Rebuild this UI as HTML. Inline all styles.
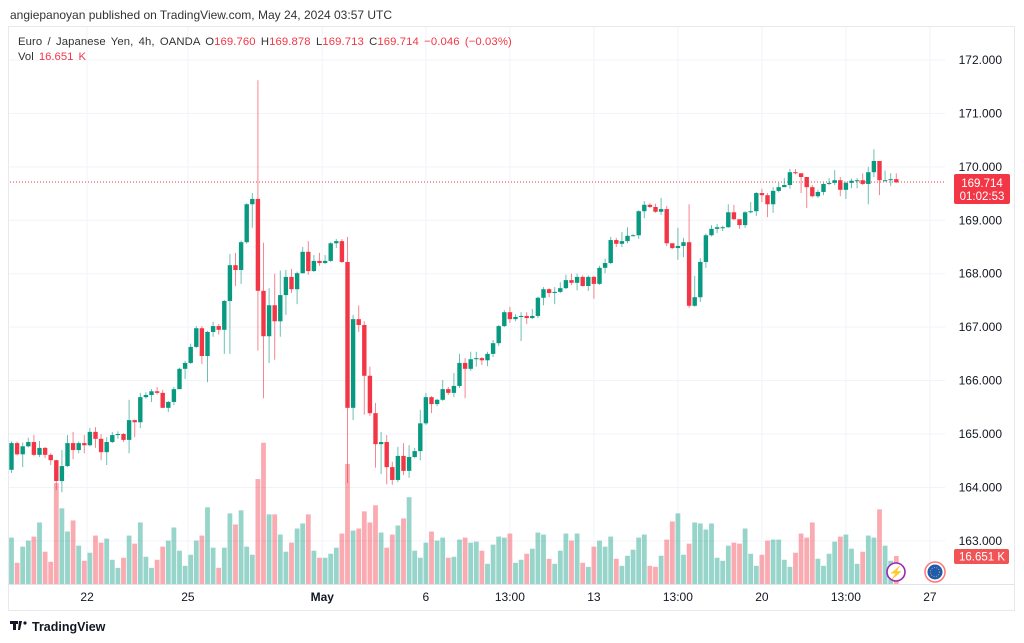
<!DOCTYPE html>
<html><head><meta charset="utf-8"><style>
body{margin:0;background:#fff;width:1024px;height:643px;overflow:hidden;font-family:"Liberation Sans",sans-serif}
svg{position:absolute;left:0;top:0}
</style></head><body>
<svg id="c" width="1024" height="643">
<text x="10" y="19" font-size="12" fill="#333">angiepanoyan published on TradingView.com, May 24, 2024 03:57 UTC</text>
<rect x="8.5" y="26.5" width="1006" height="584" fill="none" stroke="#e8e9ee"/>
<g id="grid"></g>
<g id="vol"></g>
<line x1="10" x2="945" y1="182" y2="182" stroke="#f23645" stroke-dasharray="1,2"/>
<g id="candles"></g>
<line x1="8" x2="1014" y1="584.5" y2="584.5" stroke="#e0e3eb"/>
<g id="yaxis"></g><g id="xaxis"></g>
<text x="18" y="45" font-size="11.3" fill="#333" letter-spacing="0.1" word-spacing="2">Euro / Japanese Yen, 4h, OANDA <tspan fill="#333">O</tspan><tspan fill="#f23645">169.760</tspan> <tspan fill="#333">H</tspan><tspan fill="#f23645">169.878</tspan> <tspan fill="#333">L</tspan><tspan fill="#f23645">169.713</tspan> <tspan fill="#333">C</tspan><tspan fill="#f23645">169.714  −0.046 (−0.03%)</tspan></text>
<text x="18" y="60" font-size="11.3" fill="#333" word-spacing="2">Vol <tspan fill="#f23645">16.651 K</tspan></text>
<rect x="954" y="174" width="56" height="30" rx="2" fill="#f23645"/>
<text x="982" y="187" font-size="11.5" fill="#fff" text-anchor="middle">169.714</text>
<text x="982" y="200" font-size="11.5" fill="#fff" text-anchor="middle">01:02:53</text>
<rect x="954" y="549" width="55" height="15" rx="2" fill="#f05454"/>
<text x="982" y="560.5" font-size="11.5" fill="#fff" text-anchor="middle">16.651 K</text>
<g><circle cx="896" cy="572" r="9" fill="#fff" stroke="#9c27b0" stroke-width="1.6"/><text x="896" y="576.5" font-size="12" fill="#9c27b0" text-anchor="middle">⚡</text></g>
<g><circle cx="935" cy="572" r="10" fill="#fff" stroke="#f77" stroke-width="1.5"/><circle cx="935" cy="572" r="7.5" fill="#1e5bb0"/><circle cx="935" cy="572" r="4.5" fill="none" stroke="#e8c040" stroke-width="0.8" stroke-dasharray="1,1.5"/></g>
<g><path d="M10 621h8v3h-2v6h-3v-6h-3z M19 621h3l-2 9h-2z" fill="#131722"/><circle cx="25" cy="623" r="1.6" fill="#131722"/><text x="32" y="631" font-size="12.5" fill="#131722" font-weight="bold">TradingView</text></g>
</svg>
<script>
const closes=[164.83,164.62,164.77,164.85,164.61,164.74,164.61,164.51,164.12,164.40,164.83,164.70,164.83,164.79,165.04,164.91,164.66,164.85,164.98,165.00,164.89,165.26,165.22,165.69,165.73,165.80,165.77,165.49,165.60,165.84,166.22,166.33,166.63,166.98,166.46,166.91,167.02,166.95,167.49,168.16,168.07,168.59,169.30,169.40,167.68,166.83,167.41,167.11,167.60,167.94,167.71,168.01,168.41,168.05,168.24,168.20,168.24,168.57,168.61,168.22,165.49,167.15,167.04,166.09,165.39,164.81,164.85,164.38,164.14,164.59,164.31,164.57,164.68,165.20,165.69,165.56,165.64,165.84,165.77,165.90,166.33,166.22,166.40,166.42,166.38,166.50,166.70,167.02,167.28,167.15,167.19,167.21,167.17,167.21,167.55,167.71,167.64,167.66,167.73,167.88,167.83,167.94,167.77,167.94,167.81,168.11,168.20,168.63,168.56,168.61,168.71,168.72,169.17,169.29,169.25,169.16,169.21,168.57,168.48,168.52,168.59,167.40,167.56,168.22,168.72,168.84,168.87,168.87,169.15,169.02,168.91,169.15,169.17,169.51,169.47,169.30,169.55,169.62,169.66,169.90,169.88,169.81,169.62,169.45,169.53,169.68,169.70,169.75,169.57,169.70,169.74,169.75,169.68,169.90,170.11,169.75,169.75,169.77,169.71];
const highs=[164.86,164.86,164.84,164.93,164.98,164.87,164.76,164.64,164.52,164.70,164.98,165.04,164.86,164.98,165.11,165.13,165.00,164.94,165.04,165.05,165.02,165.64,165.27,165.77,165.78,165.84,165.88,165.83,165.62,165.88,166.24,166.37,166.69,167.02,167.02,166.93,167.10,167.06,167.51,168.37,168.39,168.62,169.32,169.51,171.62,168.58,167.73,168.00,168.06,168.07,168.09,168.04,168.50,168.61,168.35,168.39,168.35,168.59,168.65,168.65,168.69,167.23,167.41,167.11,166.26,165.58,165.04,164.98,164.48,164.76,164.83,164.79,164.74,165.45,165.77,165.71,165.66,166.01,165.88,166.14,166.50,166.42,166.54,166.54,166.44,166.54,166.76,167.04,167.32,167.38,167.24,167.28,167.28,167.34,167.57,167.75,167.73,167.75,167.84,167.98,168.00,168.00,167.97,167.97,167.96,168.15,168.28,168.69,168.67,168.78,168.87,168.74,169.19,169.36,169.32,169.31,169.42,169.27,168.57,168.86,168.67,169.30,167.96,168.29,168.75,168.91,168.93,168.90,169.30,169.29,169.02,169.17,169.34,169.53,169.59,169.51,169.62,169.70,169.79,169.96,169.96,169.88,169.81,169.66,169.57,169.70,169.79,169.94,169.81,169.72,169.78,169.79,169.88,170.00,170.33,170.11,169.93,169.88,169.88];
const lows=[164.27,164.60,164.38,164.75,164.59,164.57,164.55,164.42,163.95,163.91,164.38,164.53,164.64,164.64,164.77,164.74,164.51,164.42,164.83,164.91,164.85,164.64,164.94,165.11,165.66,165.60,165.74,165.49,165.41,165.54,165.84,166.03,166.31,166.61,166.31,165.97,166.82,166.86,166.50,166.50,167.77,167.81,168.56,168.86,166.56,165.67,166.33,166.39,166.82,167.23,167.64,167.43,168.00,167.98,168.03,168.15,168.18,168.22,168.48,168.20,164.08,165.26,166.91,165.36,165.34,164.37,164.25,164.06,164.05,164.10,164.23,164.18,164.55,164.51,165.17,165.39,165.52,165.62,165.73,165.69,165.86,165.67,166.18,166.26,166.29,166.27,166.44,166.65,167.00,167.08,167.11,166.74,167.06,167.15,167.17,167.41,167.56,167.43,167.64,167.71,167.79,167.69,167.76,167.68,167.53,167.79,168.01,168.18,168.50,168.50,168.57,168.70,168.65,169.04,169.23,169.14,169.10,168.52,168.46,168.26,168.31,167.36,167.38,167.47,168.11,168.70,168.76,168.80,168.86,169.00,168.84,168.86,169.13,169.08,169.34,169.06,169.14,169.52,169.63,169.59,169.86,169.51,169.23,169.43,169.42,169.47,169.66,169.66,169.45,169.40,169.60,169.60,169.66,169.30,169.81,169.47,169.73,169.64,169.70];
const volumes=[27.6,12.6,22.2,25.8,28.2,36.6,19.2,13.2,60,45,31.2,37.8,22.8,13.8,18.6,28.8,24.6,27,14.4,9.6,15.6,28.8,24,36.6,16.2,9.6,14.4,22.2,25.8,33.6,19.8,10.8,17.4,25.8,28.8,45.6,21.6,9.6,21.6,42,35.4,43.8,22.2,17.4,62.4,84,41.4,41.4,29.4,19.2,24.6,33,36,41.4,19.8,15.6,15.6,18,21.6,30,71.4,31.8,33,43.2,36.6,46.8,30.6,21.6,29.4,34.8,39,51.6,19.8,15.6,24.6,31.2,25.8,27.6,15.6,16.2,26.4,27.6,24.6,25.2,19.8,12,23.4,28.2,27.6,30,12.6,14.4,18,21,30.6,29.4,15,12,19.8,30,25.8,30,12.6,10.2,22.2,25.8,22.2,28.2,15,10.8,16.8,20.4,27.6,29.4,10.8,10.2,16.8,26.4,37.2,42,17.4,24,36.6,36,32.4,36,15.6,13.8,22.8,24.6,24,33,18,10.8,17.4,25.8,26.4,26.4,14.4,10.2,18.6,30,27.6,36.6,15,10.8,18,25.2,28.2,29.4,21,12,19.2,28.8,27.6,44.4,22.8,13.8,16.651];
const firstOpen=164.33;
const priceTicks=[172,171,170,169,168,167,166,165,164,163];
const timeLabels=["22","25","May","6","13:00","13","13:00","20","13:00","27"];
const timeLabelBars=[13.5,31.5,55.5,74,89,104,119,134,149,164];

const NS="http://www.w3.org/2000/svg";
const X0=11.5, STEP=5.6;
const xOf=i=>X0+i*STEP;
const yOf=p=>60+(172-p)*53.43;
const VOLBASE=584, VOLPX=28/16.651;
const hOf=v=>v*VOLPX;
function mk(tag,attrs,parent){const e=document.createElementNS(NS,tag);for(const k in attrs)e.setAttribute(k,attrs[k]);parent.appendChild(e);return e;}
const G=document.getElementById('grid'),V=document.getElementById('vol'),C=document.getElementById('candles'),YA=document.getElementById('yaxis'),XA=document.getElementById('xaxis');
priceTicks.forEach(p=>{
  const l=mk('line',{x1:9,x2:945,y1:yOf(p),y2:yOf(p),stroke:'#f0f3fa'},G);
  
  
  const t=mk('text',{x:1002,y:yOf(p)+4,'font-size':12,fill:'#131722','text-anchor':'end'},YA);
  t.textContent=p.toFixed(3);
  
  
});
timeLabels.forEach((s,k)=>{
  const x=xOf(timeLabelBars[k]);
  const l=mk('line',{x1:x,x2:x,y1:27,y2:584,stroke:'#f0f3fa'},G);
  
  
  const t=mk('text',{x:x,y:601,'font-size':12,fill:'#131722','text-anchor':'middle','font-weight':(s==='May'?'bold':'normal')},XA);
  t.textContent=s;
  
  
});
closes.forEach((c,i)=>{
  const o=i===0?firstOpen:closes[i-1];
  const up=c>=o;
  const col=up?'#089981':'#f23645';
  const vcol=up?'rgba(8,153,129,0.42)':'rgba(242,54,69,0.42)';
  const x=xOf(i);
  const vb=mk('rect',{x:x-2.4,y:VOLBASE-hOf(volumes[i]),width:4.8,height:hOf(volumes[i]),fill:vcol},V);
  
  
  const w=mk('line',{x1:x,x2:x,y1:yOf(highs[i]),y2:yOf(lows[i]),stroke:col,'stroke-width':1,opacity:0.6},C);
  
  
  const top=yOf(Math.max(o,c)),bot=yOf(Math.min(o,c));
  const b=mk('rect',{x:x-2.2,y:top,width:4.4,height:Math.max(1,bot-top),fill:col},C);
  
  
});
</script>
</body></html>
